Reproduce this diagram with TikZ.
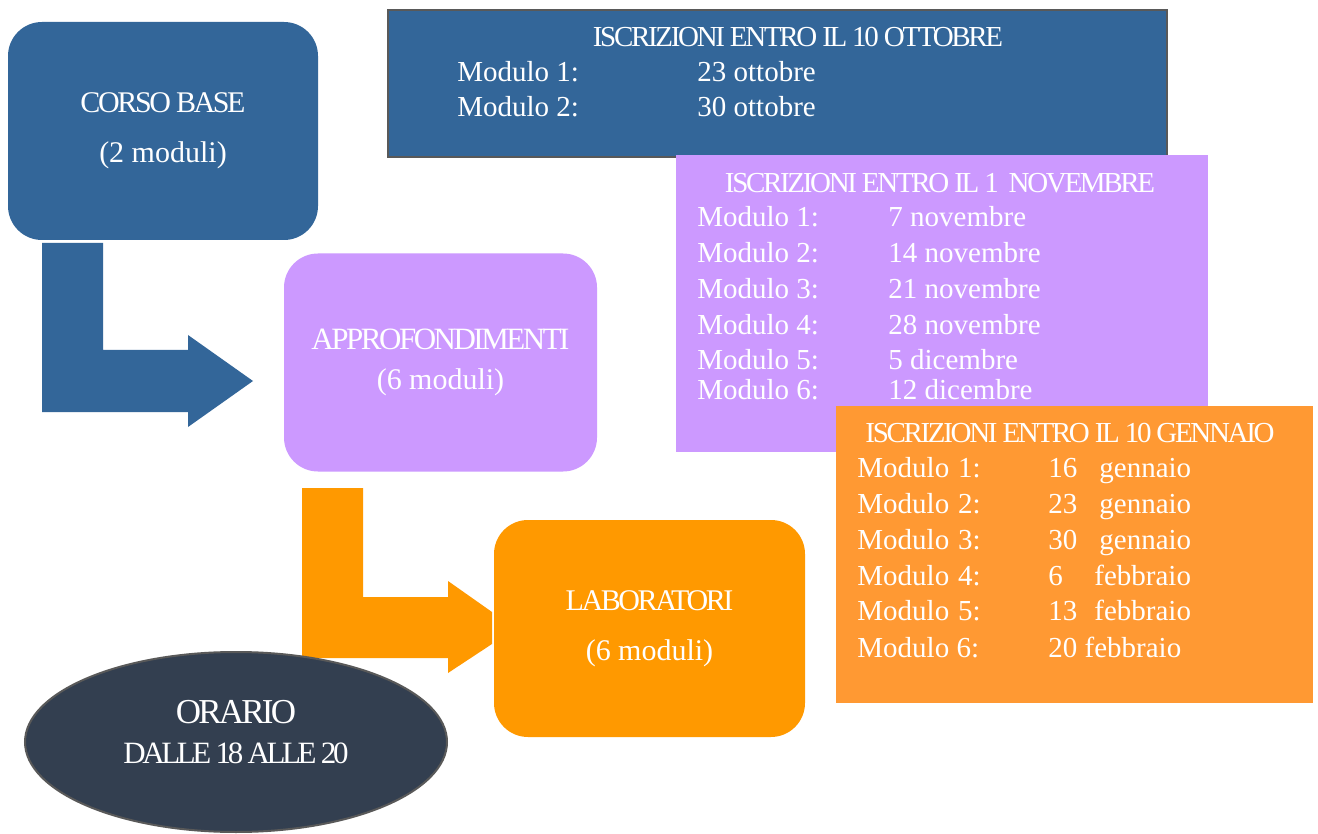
\documentclass[tikz,border=0pt]{standalone}
\usepackage{fontspec}
\setmainfont{Liberation Serif}
\newfontfamily\condfont[LetterSpace=-8]{Liberation Serif}
\newfontfamily\strettofont[LetterSpace=-11]{Liberation Serif}
\usetikzlibrary{shapes.geometric, positioning}
\definecolor{corsoblu}{HTML}{336699}
\definecolor{lilla}{HTML}{CC99FF}
\definecolor{arancio}{HTML}{FF9900}
\definecolor{arancioch}{HTML}{FF9933}
\definecolor{notte}{HTML}{333F50}
\definecolor{bordo}{HTML}{595959}
\tikzset{
x=0.5pt, y=-0.5pt, % one unit is one pixel, y grows downwards
corso/.style={rounded corners=17pt, minimum width=155pt, minimum height=109pt, text=white, align=center, font=\fontsize{15}{25}\selectfont}, % the three course boxes
iscr/.style={rectangle, inner sep=0pt}, % the boxes with the dates
titolo/.style={anchor=base, inner sep=0pt, text=white, font=\condfont\fontsize{14.5}{17}\selectfont}, % heading of a date box
riga/.style={anchor=base west, inner sep=0pt, text=white, font=\fontsize{14.5}{17}\selectfont}, % one line of a date box
}

\begin{document}
\begin{tikzpicture}
            \path[fill=white, use as bounding box] (0,0) rectangle (1318,834);
            % date boxes
            \node[iscr, fill=corsoblu, draw=bordo, line width=0.6pt, minimum width=389.5pt, minimum height=73.5pt] (ott) at (777.5,83.5) {};
            \node[titolo] (ottT) at (798,47) {ISCRIZIONI ENTRO IL 10 OTTOBRE};
            \node[riga] (ott1) at (457,82) {Modulo 1:};
            \node[riga] (ott1d) at (697,82) {23 ottobre};
            \node[riga] (ott2) at (457,117) {Modulo 2:};
            \node[riga] (ott2d) at (697,117) {30 ottobre};
            \node[iscr, fill=lilla, minimum width=266pt, minimum height=148.5pt] (nov) at (942,303.5) {};
            \node[titolo] (novT) at (940,193) {ISCRIZIONI ENTRO IL 1 \ NOVEMBRE};
            \node[riga] (nov1) at (697,227) {Modulo 1:};
            \node[riga] (nov1d) at (888,227) {7 novembre};
            \node[riga] (nov2) at (697,263) {Modulo 2:};
            \node[riga] (nov2d) at (888,263) {14 novembre};
            \node[riga] (nov3) at (697,299) {Modulo 3:};
            \node[riga] (nov3d) at (888,299) {21 novembre};
            \node[riga] (nov4) at (697,335) {Modulo 4:};
            \node[riga] (nov4d) at (888,335) {28 novembre};
            \node[riga] (nov5) at (697,370) {Modulo 5:};
            \node[riga] (nov5d) at (888,370) {5 dicembre};
            \node[riga] (nov6) at (697,400) {Modulo 6:};
            \node[riga] (nov6d) at (888,400) {12 dicembre};
            \node[iscr, fill=arancioch, minimum width=238.5pt, minimum height=148.5pt] (gen) at (1074.5,554.5) {};
            \node[titolo] (genT) at (1070,443) {ISCRIZIONI ENTRO IL 10 GENNAIO};
            \node[riga] (gen1) at (857,477) {Modulo\hspace{4.5pt}1:};
            \node[riga] (gen1d) at (1048,477) {\makebox[25.5pt][l]{16}gennaio};
            \node[riga] (gen2) at (857,513) {Modulo\hspace{4.5pt}2:};
            \node[riga] (gen2d) at (1048,513) {\makebox[25.5pt][l]{23}gennaio};
            \node[riga] (gen3) at (857,549) {Modulo\hspace{4.5pt}3:};
            \node[riga] (gen3d) at (1048,549) {\makebox[25.5pt][l]{30}gennaio};
            \node[riga] (gen4) at (857,585) {Modulo\hspace{4.5pt}4:};
            \node[riga] (gen4d) at (1048,585) {\makebox[23pt][l]{6}febbraio};
            \node[riga] (gen5) at (857,620) {Modulo\hspace{4.5pt}5:};
            \node[riga] (gen5d) at (1048,620) {\makebox[23pt][l]{13}febbraio};
            \node[riga] (gen6) at (857,657) {Modulo 6:};
            \node[riga] (gen6d) at (1048,657) {20 febbraio};
            % bent arrows
            \fill[corsoblu] (42,243) -- (103,243) -- (103,350) -- (188,350) -- (188,335) -- (253,381)
                -- (188,427) -- (188,412) -- (42,412) -- cycle;
            \fill[arancio] (302,488) -- (363,488) -- (363,597) -- (448,597) -- (448,581) -- (492,612)
                -- (492,644) -- (448,673) -- (448,658) -- (302,658) -- cycle;
            % courses
            \node[corso, fill=corsoblu] (base) at (163,131) {{\condfont CORSO BASE}\\(2 moduli)};
            \node[corso, fill=lilla, font=\fontsize{15}{20}\selectfont, minimum width=156.5pt] (appr) at (440.5,362.5) {{\condfont\fontsize{15.5}{20}\selectfont APPROFONDIMENTI}\\(6 moduli)};
            \node[corso, fill=arancio, minimum width=155.5pt, minimum height=108.5pt] (lab) at (649.5,628.5) {{\condfont LABORATORI}\\(6 moduli)};
            \node[ellipse, fill=notte, draw=bordo, line width=1pt, minimum width=211pt, minimum height=90pt] (orario) at (236,742) {};
            \node[text=white, align=center, font=\fontsize{15.5}{20}\selectfont] (orarioT) at ([yshift=5pt]orario.center)
                {{\condfont\fontsize{17.5}{20}\selectfont ORARIO}\\{\strettofont DALLE 18 ALLE 20}};
            \end{tikzpicture}
\end{document}
